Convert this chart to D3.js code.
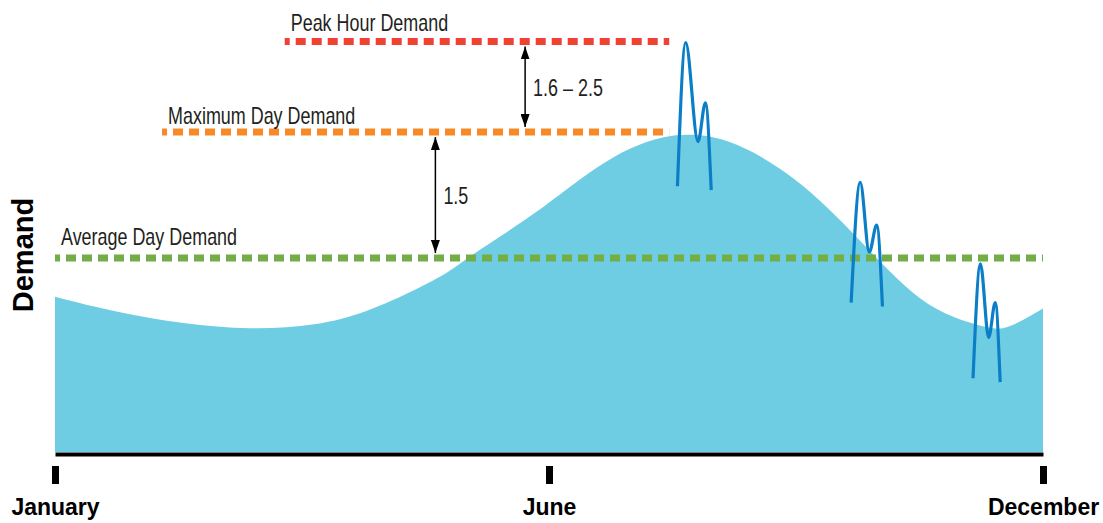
<!DOCTYPE html>
<html>
<head>
<meta charset="utf-8">
<script src="https://cdn.jsdelivr.net/npm/d3@7"></script>
<style>
	body { margin: 0; background: #fff; }
	svg { display: block; }
	.thin { font-family: "Liberation Sans", sans-serif; font-size: 23px; fill: #231f20; }
	.bold { font-family: "Liberation Sans", sans-serif; font-weight: bold; fill: #000; }
</style>
</head>
<body>
<svg id="chart" width="1103" height="523"></svg>
<script>

// seasonal demand curve (month position, demand relative to average day)
var months = [0, 0.75, 1.56, 2.37, 3.18, 3.79, 4.40, 4.80, 5.00, 5.77, 6.17, 6.58, 6.98, 7.39, 7.75, 8.08, 8.48, 8.89, 9.29, 9.69, 10.11, 10.51, 10.91, 11.32, 11.51, 11.72, 12];
var demand = [0.80, 0.72, 0.66, 0.63, 0.65, 0.72, 0.84, 0.93, 1.00, 1.21, 1.34, 1.47, 1.57, 1.63, 1.64, 1.62, 1.55, 1.44, 1.30, 1.13, 0.94, 0.78, 0.69, 0.64, 0.63, 0.67, 0.74];

// hourly peaks
var spikeMonths = [
	[7.56, 7.66, 7.81, 7.90, 7.97],
	[9.67, 9.78, 9.89, 9.98, 10.05],
	[11.15, 11.24, 11.34, 11.42, 11.48]
];
var spikeDemand = [
	[1.37, 2.11, 1.60, 1.80, 1.35],
	[0.77, 1.39, 1.03, 1.17, 0.75],
	[0.38, 0.97, 0.59, 0.77, 0.36]
];

// reference levels
var refNames = ["Peak Hour Demand", "Maximum Day Demand", "Average Day Demand"];
var refValues = [2.116, 1.649, 1.0];
var refStart = [2.79, 1.30, 0];
var refEnd = [7.46, 7.46, 12];
var refColors = ["#ef4136", "#f6892a", "#72ad45"];

// ratio arrows
var ratioLabels = ["1.6 – 2.5", "1.5"];
var ratioMonths = [5.71, 4.62];
var ratioTop = [2.116, 1.649];
var ratioBottom = [1.649, 1.0];

var tickMonths = [0, 6, 12];
var tickLabels = ["January", "June", "December"];

var svg = d3.select("#chart");
var [ mL, mR, y0 ] = [ 55, 1043, 452 ];
var squeeze = 0.78;		// condensed look for the thin labels

var x = d3.scaleLinear([0, 12], [mL, mR]);
var y = d3.scaleLinear([0, 2.2], [y0, y0 - 2.2*194]);

function thinText(tx, ty, str)	{
	svg.append("g")
		.attr("transform", `translate(${tx}, ${ty}) scale(${squeeze}, 1)`)
		.append("text")
		.attr("class", "thin")
		.text(str);
}

var defs = svg.append("defs");
defs.append("marker")
	.attr("id", "head")
	.attr("viewBox", "0 0 13 9")
	.attr("refX", 13)
	.attr("refY", 4.5)
	.attr("markerWidth", 13)
	.attr("markerHeight", 9)
	.attr("markerUnits", "userSpaceOnUse")
	.attr("orient", "auto-start-reverse")
	.append("path")
	.attr("d", "M0,0L13,4.5L0,9Z")
	.attr("fill", "#000");

// area
var area = d3.area()
	.x((d, i) => x(months[i]))
	.y0(y(0))
	.y1(d => y(d))
	.curve(d3.curveBasis);

svg.append("path")
	.datum(demand)
	.attr("d", area)
	.attr("fill", "#6fcde3");

// dashed reference lines
refNames.forEach((name, i) => {

	svg.append("line")
		.attr("x1", x(refStart[i]))
		.attr("x2", x(refEnd[i]))
		.attr("y1", y(refValues[i]))
		.attr("y2", y(refValues[i]))
		.attr("stroke", refColors[i])
		.attr("stroke-width", 7)
		.attr("stroke-dasharray", "10,6")
		.attr("stroke-dashoffset", 5);

	var dy = [10, 8, 13][i];
	thinText(x(refStart[i]) + 6, y(refValues[i]) - dy, name);

});

// hourly spikes
var spike = d3.line()
	.x(d => x(d[0]))
	.y(d => y(d[1]))
	.curve(d3.curveMonotoneX);

spikeMonths.forEach((ms, i) => {
	svg.append("path")
		.datum(ms.map((m, j) => [m, spikeDemand[i][j]]))
		.attr("d", spike)
		.attr("fill", "none")
		.attr("stroke", "#0a7ec6")
		.attr("stroke-width", 3.2);
});

// ratio arrows
ratioLabels.forEach((lab, i) => {

	var ax = x(ratioMonths[i]);
	svg.append("line")
		.attr("x1", ax)
		.attr("x2", ax)
		.attr("y1", y(ratioTop[i]) + 5)
		.attr("y2", y(ratioBottom[i]) - 5)
		.attr("stroke", "#000")
		.attr("stroke-width", 1.5)
		.attr("marker-start", "url(#head)")
		.attr("marker-end", "url(#head)");

	thinText(ax + 8, (y(ratioTop[i]) + y(ratioBottom[i])) / 2 + 9, lab);

});

// x axis
var axis = svg.append("g")
	.attr("transform", `translate(0, ${y0 + 2})`)
	.call(d3.axisBottom(x).tickValues(tickMonths).tickFormat((d, i) => tickLabels[i]).tickSizeOuter(0));

axis.select(".domain")
	.attr("stroke", "#000")
	.attr("stroke-width", 4);
axis.selectAll(".tick line")
	.attr("y1", 12)
	.attr("y2", 30)
	.attr("stroke", "#000")
	.attr("stroke-width", 7);
axis.selectAll(".tick text")
	.attr("class", "bold")
	.attr("y", 61)
	.attr("dy", 0)
	.style("font-size", "23px")
	.style("font-family", "Liberation Sans, sans-serif")
	.attr("fill", "#000");

// y label
svg.append("text")
	.attr("class", "bold")
	.attr("transform", "translate(33, 255) rotate(-90)")
	.attr("text-anchor", "middle")
	.style("font-size", "29px")
	.text("Demand");

</script>
</body>
</html>
